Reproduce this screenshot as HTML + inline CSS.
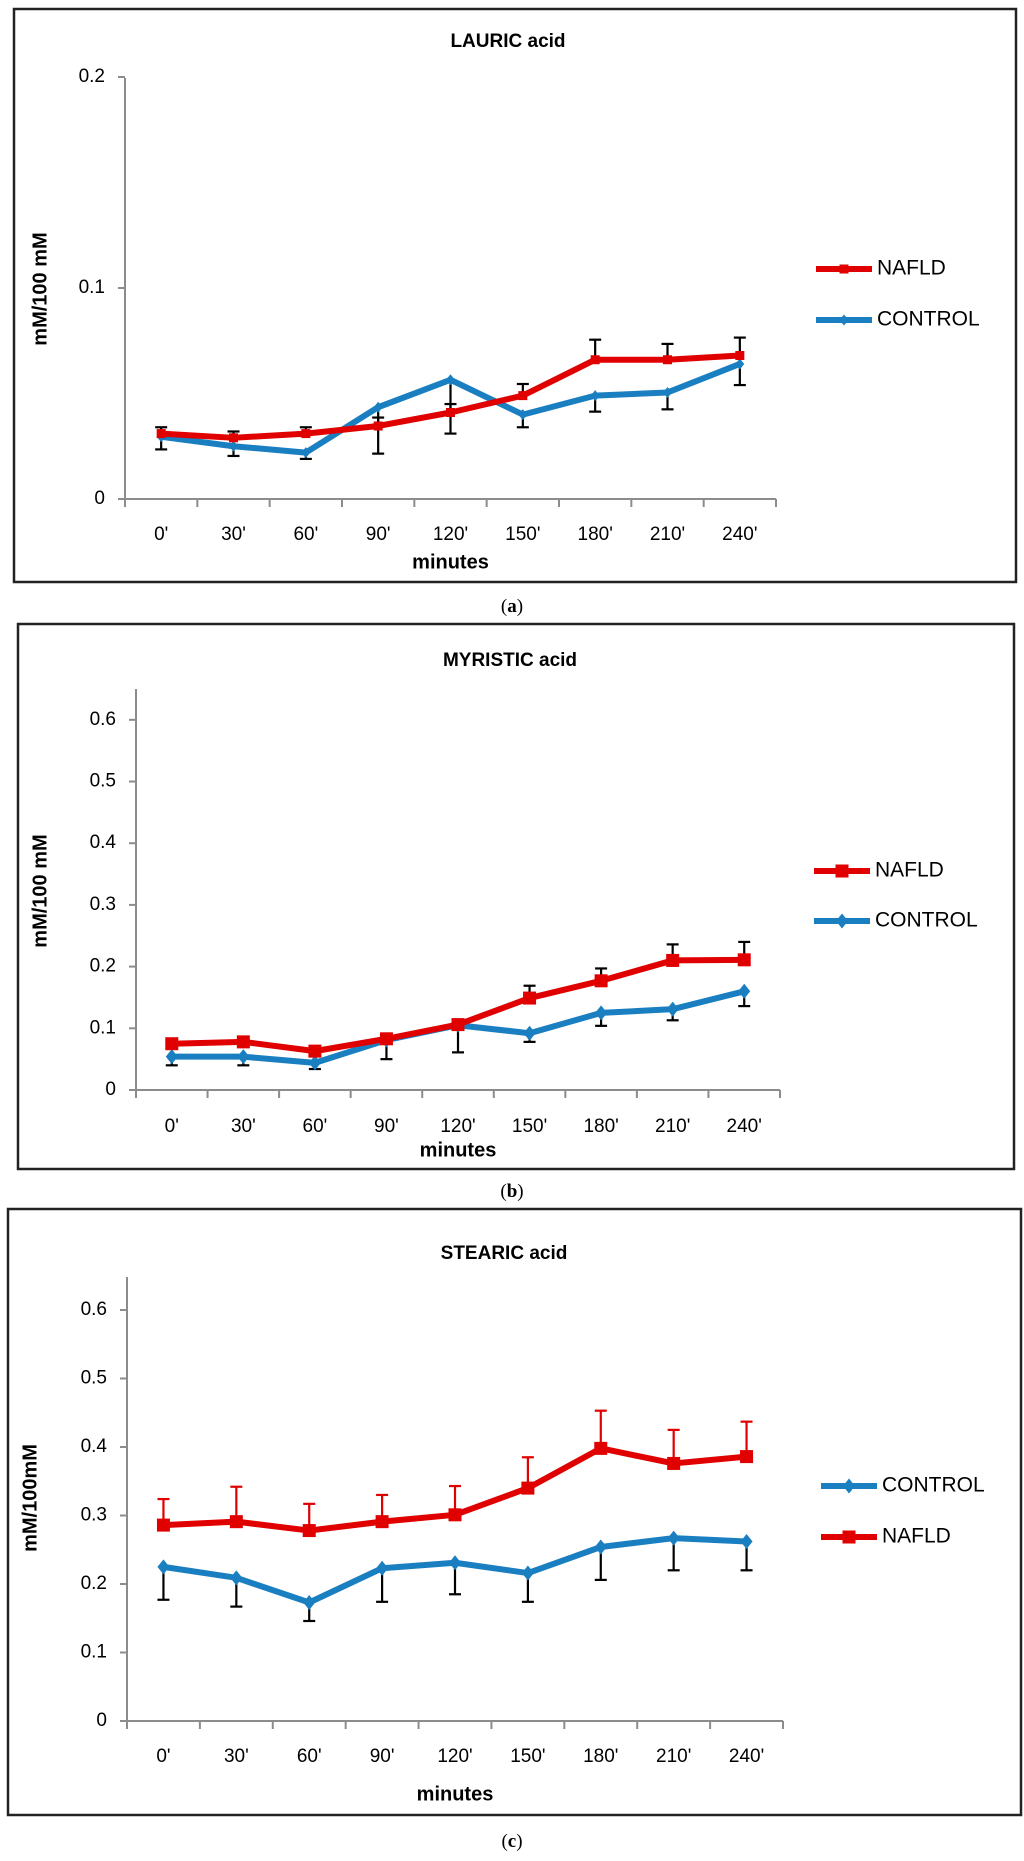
<!DOCTYPE html>
<html><head><meta charset="utf-8">
<style>
html,body{margin:0;padding:0;background:#fff;}
body{width:1024px;height:1861px;position:relative;overflow:hidden;font-family:"Liberation Sans",sans-serif;}
svg{position:absolute;left:0;top:0;}
</style></head>
<body>
<svg id="fig" width="1024" height="1861" viewBox="0 0 1024 1861"></svg>
<script>
const categories = ["0'","30'","60'","90'","120'","150'","180'","210'","240'"];

// Panel a: LAURIC acid
const lauricNafld = [0.031,0.029,0.031,0.0346,0.041,0.049,0.066,0.066,0.068];
const lauricNafldErr = [0.003,0.003,0.003,0.004,0.004,0.0055,0.0095,0.0075,0.0085];
const lauricControl = [0.0295,0.025,0.022,0.0435,0.0565,0.040,0.049,0.0505,0.064];
const lauricControlErr = [0.006,0.0046,0.003,0.022,0.0255,0.006,0.0076,0.008,0.010];
const lauricTicks = [0,0.1,0.2];
const lauricTickLabels = ["0","0.1","0.2"];

// Panel b: MYRISTIC acid
const myristicNafld = [0.075,0.078,0.063,0.083,0.106,0.149,0.177,0.210,0.211];
const myristicNafldErr = [0.003,0.003,0.003,0.003,0.004,0.020,0.020,0.026,0.029];
const myristicControl = [0.054,0.054,0.044,0.081,0.105,0.092,0.125,0.131,0.160];
const myristicControlErr = [0.014,0.014,0.010,0.031,0.044,0.014,0.021,0.018,0.024];
const myristicTicks = [0,0.1,0.2,0.3,0.4,0.5,0.6];
const myristicTickLabels = ["0","0.1","0.2","0.3","0.4","0.5","0.6"];

// Panel c: STEARIC acid
const stearicNafld = [0.286,0.291,0.278,0.291,0.301,0.340,0.398,0.376,0.386];
const stearicNafldErr = [0.038,0.051,0.039,0.039,0.042,0.045,0.055,0.049,0.051];
const stearicControl = [0.225,0.209,0.173,0.223,0.231,0.216,0.254,0.267,0.262];
const stearicControlErr = [0.048,0.042,0.027,0.049,0.046,0.042,0.048,0.047,0.042];
const stearicTicks = [0,0.1,0.2,0.3,0.4,0.5,0.6];
const stearicTickLabels = ["0","0.1","0.2","0.3","0.4","0.5","0.6"];

const RED = "#e00000", BLUE = "#1a7fc1";
const svg = document.getElementById('fig');
const NS = "http://www.w3.org/2000/svg";
function mk(tag, attrs, parent){
  const e = document.createElementNS(NS, tag);
  for (const k in attrs) e.setAttribute(k, attrs[k]);
  (parent||svg).appendChild(e);
  return e;
}
function txt(s, attrs, parent){ const t = mk('text', attrs, parent); t.textContent = s; return t; }

function diamond(g, x, y, r, color){
  return mk('polygon', {points:`${x},${y-r} ${x+r*0.8},${y} ${x},${y+r} ${x-r*0.8},${y}`, fill:color}, g);
}

function chart(p){
  const g = mk('g', {});
  
  
  const b = mk('rect', {x:p.box[0], y:p.box[1], width:p.box[2]-p.box[0], height:p.box[3]-p.box[1], fill:'none', stroke:'#222', 'stroke-width':2.5}, g);
  
  
  const t = txt(p.title, {x:p.titleX, y:p.titleY, 'text-anchor':'middle', 'dominant-baseline':'middle', 'font-size':19, 'font-weight':'bold'}, g);
  
  

  const yMax = p.ticks[p.ticks.length-1];
  const ys = v => p.y0 - (v / p.tickStep) * p.tickPx;
  const cw = (p.axEnd - p.axX) / categories.length;
  const xs = i => p.axX + cw * (i + 0.5);

  // axes
  const ya = mk('line', {x1:p.axX, y1:p.axTop, x2:p.axX, y2:p.y0, stroke:'#8c8c8c', 'stroke-width':2}, g);
  
  
  const xa = mk('line', {x1:p.axX-7, y1:p.y0, x2:p.axEnd, y2:p.y0, stroke:'#8c8c8c', 'stroke-width':2}, g);
  
  
  p.ticks.forEach((v, i) => {
    const y = ys(v);
    mk('line', {x1:p.axX-7, y1:y, x2:p.axX, y2:y, stroke:'#8c8c8c', 'stroke-width':2}, g);
    const l = txt(p.tickLabels[i], {x:p.axX-20, y:y, 'text-anchor':'end', 'dominant-baseline':'middle', 'font-size':19}, g);
    
    
  });
  for (let i = 0; i <= categories.length; i++) {
    const x = p.axX + cw * i;
    mk('line', {x1:x, y1:p.y0, x2:x, y2:p.y0+8, stroke:'#8c8c8c', 'stroke-width':2}, g);
  }
  categories.forEach((c, i) => {
    const l = txt(c, {x:xs(i), y:p.catY, 'text-anchor':'middle', 'dominant-baseline':'middle', 'font-size':19}, g);
    
    
  });
  const xt = txt('minutes', {x:(p.axX+p.axEnd)/2, y:p.minY, 'text-anchor':'middle', 'dominant-baseline':'middle', 'font-size':20, 'font-weight':'bold'}, g);
  
  
  const yt = txt(p.yTitle, {x:0, y:0, 'text-anchor':'middle', 'dominant-baseline':'middle', 'font-size':20, 'font-weight':'bold', transform:`translate(${p.yTitleX},${p.yTitleY}) rotate(-90)`}, g);
  
  

  function series(vals, errs, color, errColor, up, marker, nm){
    const sg = mk('g', {}, g);
    
    
    vals.forEach((v, i) => {
      const x = xs(i), y1 = ys(v), y2 = ys(up ? v + errs[i] : v - errs[i]);
      const e = mk('g', {}, sg);
      
      
      mk('line', {x1:x, y1:y1, x2:x, y2:y2, stroke:errColor, 'stroke-width':2.2}, e);
      mk('line', {x1:x-6, y1:y2, x2:x+6, y2:y2, stroke:errColor, 'stroke-width':2.2}, e);
    });
    const pts = vals.map((v, i) => `${xs(i)},${ys(v)}`).join(' ');
    const pl = mk('polyline', {points:pts, fill:'none', stroke:color, 'stroke-width':6, 'stroke-linejoin':'round'}, sg);
    
    
    vals.forEach((v, i) => {
      let m;
      if (marker === 'sq') m = mk('rect', {x:xs(i)-p.msz/2, y:ys(v)-p.msz/2, width:p.msz, height:p.msz, fill:color}, sg);
      else m = diamond(sg, xs(i), ys(v), p.msz/2+1, color);
      
      
    });
  }
  series(p.control, p.controlErr, BLUE, '#000', false, 'dia', 'control');
  series(p.nafld, p.nafldErr, RED, p.nafldErrColor, true, 'sq', 'nafld');

  // legend
  p.legend.forEach(L => {
    const lg = mk('g', {}, g);
    
    
    const col = L.label === 'NAFLD' ? RED : BLUE;
    mk('line', {x1:p.legX, y1:L.y, x2:p.legX+56, y2:L.y, stroke:col, 'stroke-width':6}, lg);
    if (L.label === 'NAFLD') mk('rect', {x:p.legX+28-p.msz/2, y:L.y-p.msz/2, width:p.msz, height:p.msz, fill:col}, lg);
    else diamond(lg, p.legX+28, L.y, p.msz/2+1, col);
    txt(L.label, {x:p.legX+61, y:L.y, 'dominant-baseline':'middle', 'font-size':21}, lg);
  });

  const cap = txt('', {x:512, y:p.capY, 'text-anchor':'middle', 'dominant-baseline':'middle', 'font-size':19, 'font-family':'Liberation Serif, serif'}, svg);
  
  
  const t1 = mk('tspan', {}, cap); t1.textContent = '(';
  const t2 = mk('tspan', {'font-weight':'bold'}, cap); t2.textContent = p.capLetter;
  const t3 = mk('tspan', {}, cap); t3.textContent = ')';
}

chart({name:'lauric-chart', box:[14,9,1016,582], title:'LAURIC acid', titleX:508, titleY:42,
  axX:125, axTop:78, axEnd:776, y0:499, tickStep:0.1, tickPx:211, ticks:lauricTicks, tickLabels:lauricTickLabels,
  catY:535, minY:563, yTitle:'mM/100 mM', yTitleX:41, yTitleY:289, msz:9,
  nafld:lauricNafld, nafldErr:lauricNafldErr, control:lauricControl, controlErr:lauricControlErr, nafldErrColor:'#000',
  legX:816, legend:[{label:'NAFLD', y:269},{label:'CONTROL', y:320}], capY:608, capLetter:'a'});

chart({name:'myristic-chart', box:[18,624,1014,1169], title:'MYRISTIC acid', titleX:510, titleY:661,
  axX:136, axTop:689, axEnd:780, y0:1090, tickStep:0.1, tickPx:61.7, ticks:myristicTicks, tickLabels:myristicTickLabels,
  catY:1127, minY:1151, yTitle:'mM/100 mM', yTitleX:41, yTitleY:891, msz:13,
  nafld:myristicNafld, nafldErr:myristicNafldErr, control:myristicControl, controlErr:myristicControlErr, nafldErrColor:'#000',
  legX:814, legend:[{label:'NAFLD', y:871},{label:'CONTROL', y:921}], capY:1193, capLetter:'b'});

chart({name:'stearic-chart', box:[8,1209,1021,1815], title:'STEARIC acid', titleX:504, titleY:1254,
  axX:127, axTop:1277, axEnd:783, y0:1721, tickStep:0.1, tickPx:68.5, ticks:stearicTicks, tickLabels:stearicTickLabels,
  catY:1757, minY:1795, yTitle:'mM/100mM', yTitleX:31, yTitleY:1498, msz:13,
  nafld:stearicNafld, nafldErr:stearicNafldErr, control:stearicControl, controlErr:stearicControlErr, nafldErrColor:RED,
  legX:821, legend:[{label:'CONTROL', y:1486},{label:'NAFLD', y:1537}], capY:1843, capLetter:'c'});
</script>
</body></html>
